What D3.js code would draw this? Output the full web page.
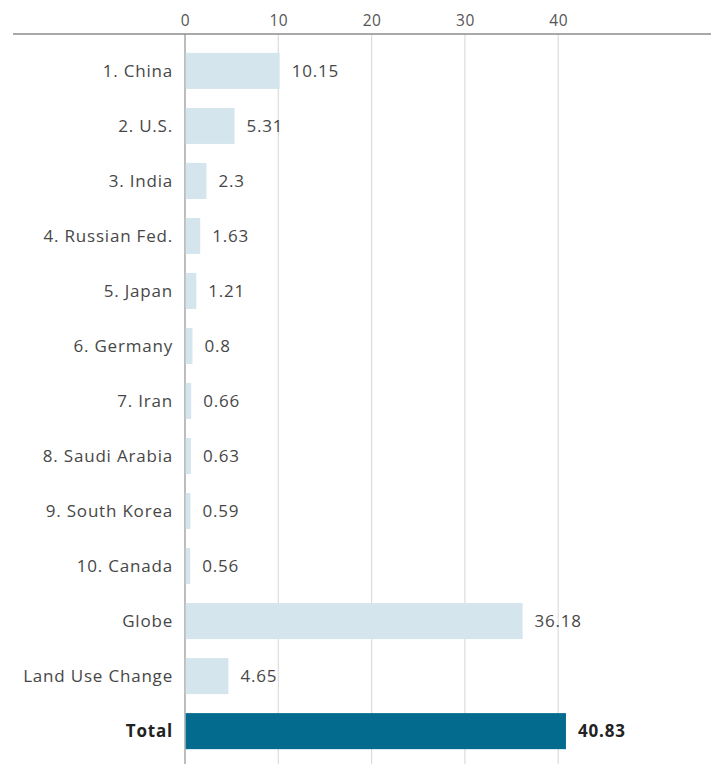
<!doctype html>
<html>

<head>
    <meta charset="utf-8">
    <title>CO2 emissions</title>
    <style>
        body {
            margin: 0;
            background: #fff;
        }

        svg text {
            font-family: "Open Sans", "Liberation Sans", sans-serif;
        }

        .label {
            fill: #474747;
            font-size: 17px;
            letter-spacing: 0.8px;
        }

        .tick text {
            fill: #555;
            font-size: 15.5px;
            letter-spacing: 0.5px;
        }
    </style>
    <script src="https://cdn.jsdelivr.net/npm/d3@7"></script>
</head>

<body>
    <svg width="715" height="764"></svg>
    <script>
        var categories = ["1. China", "2. U.S.", "3. India", "4. Russian Fed.", "5. Japan", "6. Germany",
            "7. Iran", "8. Saudi Arabia", "9. South Korea", "10. Canada", "Globe", "Land Use Change", "Total"];
        var values = [10.15, 5.31, 2.3, 1.63, 1.21, 0.8, 0.66, 0.63, 0.59, 0.56, 36.18, 4.65, 40.83];
        var valueLabels = ["10.15", "5.31", "2.3", "1.63", "1.21", "0.8", "0.66", "0.63", "0.59", "0.56",
            "36.18", "4.65", "40.83"];
        var tickValues = [0, 10, 20, 30, 40];

        var svg = d3.select("svg"),
            margin = { top: 34, right: 4, bottom: 0, left: 185 },
            width = +svg.attr("width") - margin.left - margin.right,
            height = +svg.attr("height") - margin.top - margin.bottom;

        var data = categories.map(function (c, i) {
            return { name: c, value: values[i], label: valueLabels[i], total: c === "Total" };
        });

        var x = d3.scaleLinear().domain([0, 10]).range([0, 93.3]);
        var y = d3.scaleBand().domain(categories).range([9.5, 724.5]).paddingInner(0.345).paddingOuter(0.17);

        var g = svg.append("g")
            .attr("transform", "translate(" + margin.left + "," + margin.top + ")");

        // gridlines
        g.selectAll(".grid")
            .data(tickValues)
            .enter().append("line")
            .attr("class", "grid")
            .attr("x1", function (d) { return x(d); })
            .attr("x2", function (d) { return x(d); })
            .attr("y1", 0)
            .attr("y2", height)
            .attr("stroke", function (d) { return d === 0 ? "#9a9a9a" : "#dcdcdc"; })
            .attr("stroke-width", function (d) { return d === 0 ? 1.3 : 1.2; });

        // top axis
        g.append("g")
            .attr("class", "axis")
            .call(d3.axisTop(x).tickValues(tickValues).tickSize(0).tickPadding(8))
            .call(function (a) {
                a.select(".domain").remove();
            });

        g.append("line")
            .attr("x1", 13 - margin.left)
            .attr("x2", 711 - margin.left)
            .attr("y1", 0)
            .attr("y2", 0)
            .attr("stroke", "#8c8c8c")
            .attr("stroke-width", 1.6);

        g.selectAll(".bar")
            .data(data)
            .enter().append("rect")
            .attr("class", "bar")
            .attr("x", x(0) + 0.7)
            .attr("y", function (d) { return y(d.name); })
            .attr("width", function (d) { return x(d.value) - 0.7; })
            .attr("height", y.bandwidth())
            .attr("fill", function (d) { return d.total ? "#036b8e" : "#d4e5ee"; });

        g.selectAll(".cat")
            .data(data)
            .enter().append("text")
            .attr("class", "label cat")
            .attr("x", -12)
            .attr("y", function (d) { return y(d.name) + y.bandwidth() / 2; })
            .attr("dy", "0.35em")
            .attr("text-anchor", "end")
            .style("font-weight", function (d) { return d.total ? "bold" : null; })
            .style("fill", function (d) { return d.total ? "#222" : null; })
            .text(function (d) { return d.name; });

        g.selectAll(".val")
            .data(data)
            .enter().append("text")
            .attr("class", "label val")
            .attr("x", function (d) { return x(d.value) + 12; })
            .attr("y", function (d) { return y(d.name) + y.bandwidth() / 2; })
            .attr("dy", "0.35em")
            .style("font-weight", function (d) { return d.total ? "bold" : null; })
            .style("fill", function (d) { return d.total ? "#222" : null; })
            .text(function (d) { return d.label; });
    </script>
</body>

</html>
